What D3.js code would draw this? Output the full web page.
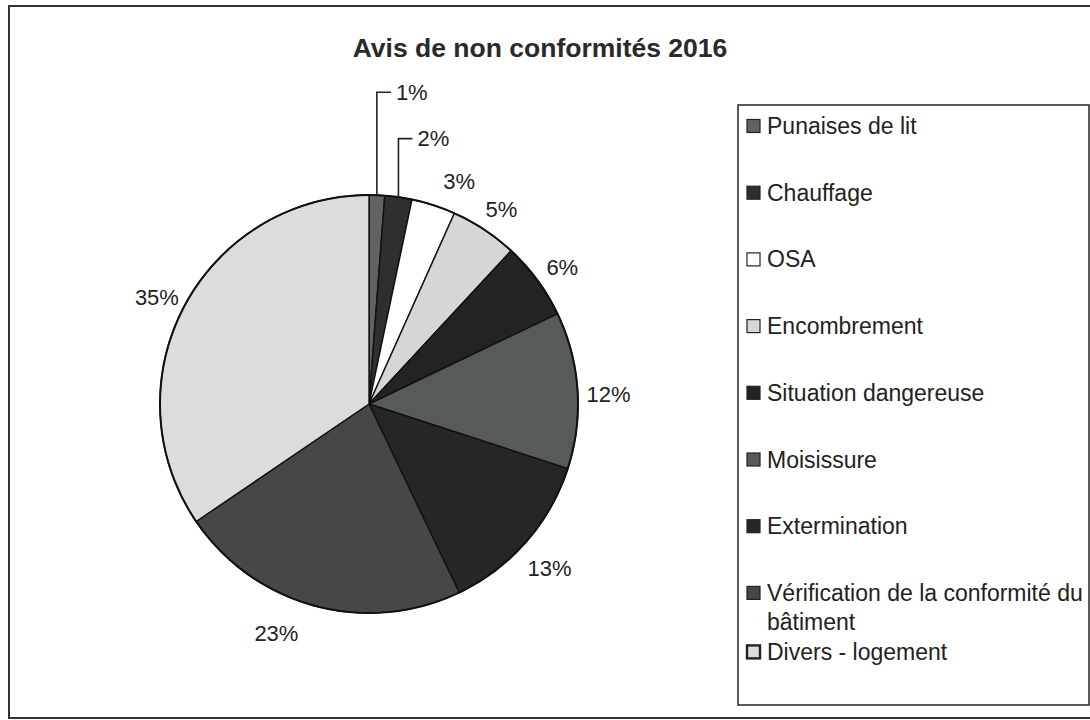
<!DOCTYPE html>
<html>
<head>
<meta charset="utf-8">
<script src="https://cdn.jsdelivr.net/npm/d3@7"></script>
<style>
  body { margin: 0; background: #fff; }
  text { font-family: "Liberation Sans", Arial, sans-serif; }
</style>
</head>
<body>
<div id="container"></div>
<script>
// slices, clockwise from 12 o'clock (percent of total)
var categories = ["Punaises de lit", "Chauffage", "OSA", "Encombrement", "Situation dangereuse",
                  "Moisissure", "Extermination", "Vérification de la conformité du bâtiment", "Divers - logement"];
var values = [1.2, 2.1, 3.4, 5.2, 6.0, 12.1, 12.9, 22.6, 34.5];
var colors = ["#626262", "#2f2f2f", "#ffffff", "#d6d6d6", "#232323",
              "#565a5b", "#262626", "#474747", "#dcdcdc"];
var title = "Avis de non conformités 2016";

var width = 1090, height = 720;
var cx = 369, cy = 404, radius = 209;

var svg = d3.select("#container")
  .append("svg")
    .attr("width", width)
    .attr("height", height);

// outer frame (right edge runs off the page)
svg.append("rect")
  .attr("x", 9).attr("y", 6)
  .attr("width", 1100).attr("height", 712)
  .attr("fill", "none")
  .attr("stroke", "#333")
  .attr("stroke-width", 2);

svg.append("text")
  .attr("x", 540)
  .attr("y", 57)
  .attr("text-anchor", "middle")
  .style("font-size", "26.5px")
  .style("font-weight", "bold")
  .style("fill", "#2a2a2a")
  .text(title);

var total = d3.sum(values);
var data = categories.map(function(c, i) {
  return {name: c, value: values[i], color: colors[i]};
});

var pie = d3.pie()
  .sort(null)
  .value(d => d.value);

var arc = d3.arc()
  .innerRadius(0)
  .outerRadius(radius);

var arcs = pie(data);

var g = svg.append("g")
  .attr("transform", "translate(" + cx + "," + cy + ")");

g.selectAll("path.slice")
  .data(arcs)
  .enter()
  .append("path")
    .attr("class", "slice")
    .attr("d", arc)
    .attr("fill", d => d.data.color)
    .attr("stroke", "#111")
    .attr("stroke-width", 1.4)
    .attr("stroke-linejoin", "round");

g.append("circle")
  .attr("r", radius)
  .attr("fill", "none")
  .attr("stroke", "#111")
  .attr("stroke-width", 2);

// percent labels; the two thin slices get lifted labels with leader lines
var labelR = 240;
var lifted = {0: 312, 1: 268};
// labels that were dragged a little in the original
var shift = {2: [16, 0], 7: [-30, -8]};

arcs.forEach(function(d, i) {
  var a = (d.startAngle + d.endAngle) / 2;
  var txt = Math.round(d.value / total * 100) + "%";
  if (lifted[i]) {
    var px = radius * Math.sin(a);
    var py = -radius * Math.cos(a);
    var ly = -lifted[i] * Math.cos(a);
    g.append("path")
      .attr("d", "M" + px + "," + py + "V" + ly + "h14")
      .attr("fill", "none")
      .attr("stroke", "#222")
      .attr("stroke-width", 1.6);
    g.append("text")
      .attr("x", px + 19)
      .attr("y", ly)
      .attr("dy", "0.35em")
      .style("font-size", "22px")
      .style("fill", "#222")
      .text(txt);
  } else {
    var s = shift[i] || [0, 0];
    g.append("text")
      .attr("x", labelR * Math.sin(a) + s[0])
      .attr("y", -labelR * Math.cos(a) + s[1])
      .attr("dy", "0.62em")
      .attr("text-anchor", "middle")
      .style("font-size", "22px")
      .style("fill", "#222")
      .text(txt);
  }
});

// legend
var lgX = 738, lgY = 105, lgW = 351, lgH = 600;
svg.append("rect")
  .attr("x", lgX).attr("y", lgY)
  .attr("width", lgW).attr("height", lgH)
  .attr("fill", "none")
  .attr("stroke", "#333")
  .attr("stroke-width", 1.6);

var step = 66.7, lineH = 29.5, firstY = 126;
var textX = lgX + 29, maxW = lgW - 18;
var curY = firstY;

data.forEach(function(d, i) {
  var item = svg.append("g");
  item.append("rect")
    .attr("x", lgX + 9)
    .attr("y", curY - 6.5)
    .attr("width", 13).attr("height", 13)
    .attr("fill", d.color)
    .attr("stroke", "#222")
    .attr("stroke-width", d.color == "#dcdcdc" ? 2.4 : 1.2);

  // simple word wrap
  var words = d.name.split(" ");
  var lines = [], line = "";
  var probe = item.append("text").style("font-size", "23px");
  words.forEach(function(w) {
    var test = line ? line + " " + w : w;
    probe.text(test);
    if (probe.node().getComputedTextLength() > maxW && line) {
      lines.push(line);
      line = w;
    } else {
      line = test;
    }
  });
  lines.push(line);
  probe.remove();

  lines.forEach(function(l, k) {
    item.append("text")
      .attr("x", textX)
      .attr("y", curY + k * lineH)
      .attr("dy", "0.35em")
      .style("font-size", "23px")
      .style("fill", "#222")
      .text(l);
  });

  if (lines.length > 1) curY += (lines.length - 1) * lineH + lineH;
  else curY += step;
});
</script>
</body>
</html>
